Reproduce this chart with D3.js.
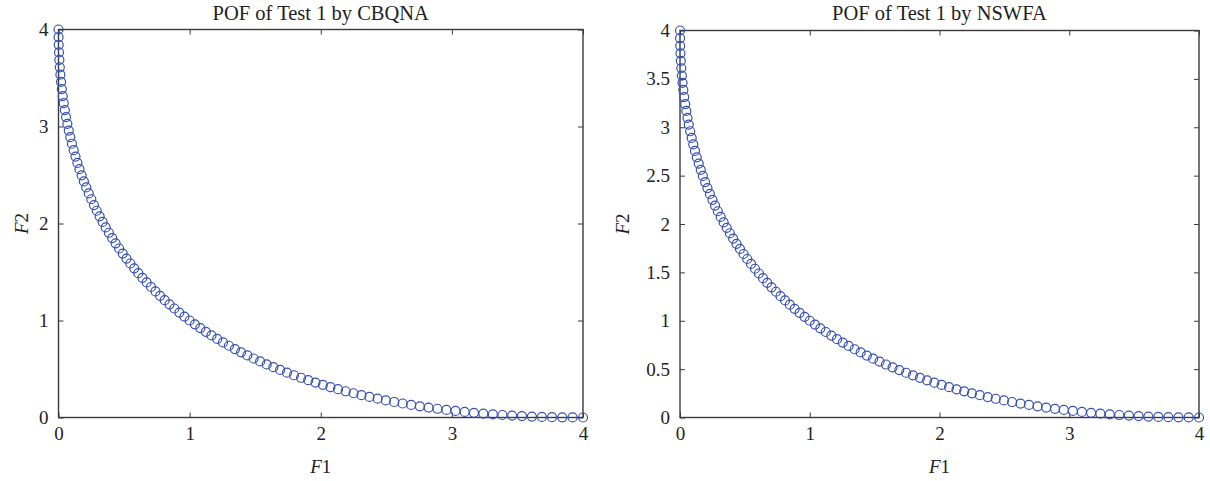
<!DOCTYPE html>
<html>
<head>
<meta charset="utf-8">
<script src="https://cdn.jsdelivr.net/npm/d3@7"></script>
<style>
  html, body { margin: 0; padding: 0; background: #fff; }
  svg { display: block; }
  text { font-family: "Liberation Serif", "Times New Roman", serif; fill: #222; }
</style>
</head>
<body>
<svg id="chart" width="1210" height="481"></svg>
<script>
// ---- Data (both panels show the same front) ----
const panelTitles = ["POF of Test 1 by CBQNA", "POF of Test 1 by NSWFA"];

const cbqnaF1 = [0,0.0004,0.0016,0.0036,0.0064,0.01,0.0144,0.0196,0.0256,0.0324,0.04,0.0484,0.0576,0.0676,0.0784,0.09,0.1024,0.1156,0.1296,0.1444,0.16,0.1764,0.1936,0.2116,0.2304,0.25,0.2704,0.2916,0.3136,0.3364,0.36,0.3844,0.4096,0.4356,0.4624,0.49,0.5184,0.5476,0.5776,0.6084,0.64,0.6724,0.7056,0.7396,0.7744,0.81,0.8464,0.8836,0.9216,0.9604,1,1.0404,1.0816,1.1236,1.1664,1.21,1.2544,1.2996,1.3456,1.3924,1.44,1.4884,1.5376,1.5876,1.6384,1.69,1.7424,1.7956,1.8496,1.9044,1.96,2.0164,2.0736,2.1316,2.1904,2.25,2.3104,2.3716,2.4336,2.4964,2.56,2.6244,2.6896,2.7556,2.8224,2.89,2.9584,3.0276,3.0976,3.1684,3.24,3.3124,3.3856,3.4596,3.5344,3.61,3.6864,3.7636,3.8416,3.9204,4];
const cbqnaF2 = [4,3.9204,3.8416,3.7636,3.6864,3.61,3.5344,3.4596,3.3856,3.3124,3.24,3.1684,3.0976,3.0276,2.9584,2.89,2.8224,2.7556,2.6896,2.6244,2.56,2.4964,2.4336,2.3716,2.3104,2.25,2.1904,2.1316,2.0736,2.0164,1.96,1.9044,1.8496,1.7956,1.7424,1.69,1.6384,1.5876,1.5376,1.4884,1.44,1.3924,1.3456,1.2996,1.2544,1.21,1.1664,1.1236,1.0816,1.0404,1,0.9604,0.9216,0.8836,0.8464,0.81,0.7744,0.7396,0.7056,0.6724,0.64,0.6084,0.5776,0.5476,0.5184,0.49,0.4624,0.4356,0.4096,0.3844,0.36,0.3364,0.3136,0.2916,0.2704,0.25,0.2304,0.2116,0.1936,0.1764,0.16,0.1444,0.1296,0.1156,0.1024,0.09,0.0784,0.0676,0.0576,0.0484,0.04,0.0324,0.0256,0.0196,0.0144,0.01,0.0064,0.0036,0.0016,0.0004,0];
const nswfaF1 = cbqnaF1.slice();
const nswfaF2 = cbqnaF2.slice();

const xTicks = [0, 1, 2, 3, 4];
const yTicksLeft = [0, 1, 2, 3, 4];
const yTicksRight = [0, 0.5, 1, 1.5, 2, 2.5, 3, 3.5, 4];

// ---- Layout ----
const panels = [
  { title: panelTitles[0], f1: cbqnaF1, f2: cbqnaF2, yTicks: yTicksLeft,
    left: 58.5, right: 583, top: 29.5, bottom: 417.5, ylabX: 23 },
  { title: panelTitles[1], f1: nswfaF1, f2: nswfaF2, yTicks: yTicksRight,
    left: 680, right: 1199, top: 30.5, bottom: 417.5, ylabX: 624 }
];

const svg = d3.select("#chart");
const axisColor = "#3a3a3a";
const markColor = "#3651b2";
const fs = 19;
const titleFs = 20.5;

panels.forEach(p => {
  const x = d3.scaleLinear().domain([0, 4]).range([p.left, p.right]);
  const y = d3.scaleLinear().domain([0, 4]).range([p.bottom, p.top]);
  const g = svg.append("g");

  const styleAxis = sel => {
    sel.select(".domain").remove();
    sel.selectAll(".tick line").attr("stroke", axisColor).attr("stroke-width", 1);
    sel.selectAll(".tick text").style("font-size", fs + "px").attr("fill", "#222");
  };

  g.append("g").attr("transform", `translate(0,${p.bottom})`)
    .call(d3.axisBottom(x).tickValues(xTicks).tickFormat(d3.format("d")).tickSizeInner(-5).tickSizeOuter(0).tickPadding(9))
    .call(styleAxis);
  g.append("g").attr("transform", `translate(0,${p.top})`)
    .call(d3.axisTop(x).tickValues(xTicks).tickFormat("").tickSizeInner(-5).tickSizeOuter(0))
    .call(styleAxis);
  g.append("g").attr("transform", `translate(${p.left},0)`)
    .call(d3.axisLeft(y).tickValues(p.yTicks).tickFormat(d => String(d)).tickSizeInner(-5).tickSizeOuter(0).tickPadding(10))
    .call(styleAxis);
  g.append("g").attr("transform", `translate(${p.right},0)`)
    .call(d3.axisRight(y).tickValues(p.yTicks).tickFormat("").tickSizeInner(-5).tickSizeOuter(0))
    .call(styleAxis);

  g.append("rect")
    .attr("x", p.left).attr("y", p.top)
    .attr("width", p.right - p.left).attr("height", p.bottom - p.top)
    .attr("fill", "none").attr("stroke", axisColor).attr("stroke-width", 1.4);

  g.append("text")
    .attr("x", (p.left + p.right) / 2).attr("y", 20)
    .attr("text-anchor", "middle").style("font-size", titleFs + "px")
    .text(p.title);

  const xl = g.append("text")
    .attr("x", (p.left + p.right) / 2).attr("y", 473)
    .attr("text-anchor", "middle").style("font-size", fs + "px");
  xl.append("tspan").style("font-style", "italic").text("F");
  xl.append("tspan").text("1");

  const yc = (p.top + p.bottom) / 2;
  const yl = g.append("text")
    .attr("transform", `translate(${p.ylabX + 5},${yc}) rotate(-90)`)
    .attr("text-anchor", "middle").style("font-size", fs + "px");
  yl.append("tspan").style("font-style", "italic").text("F");
  yl.append("tspan").text("2");

  const pts = p.f1.map((v, i) => [v, p.f2[i]]);
  g.append("g").selectAll("circle").data(pts).join("circle")
    .attr("cx", d => x(d[0])).attr("cy", d => y(d[1]))
    .attr("r", 4.5)
    .attr("fill", "none").attr("stroke", markColor).attr("stroke-width", 1.2);
});
</script>
</body>
</html>
